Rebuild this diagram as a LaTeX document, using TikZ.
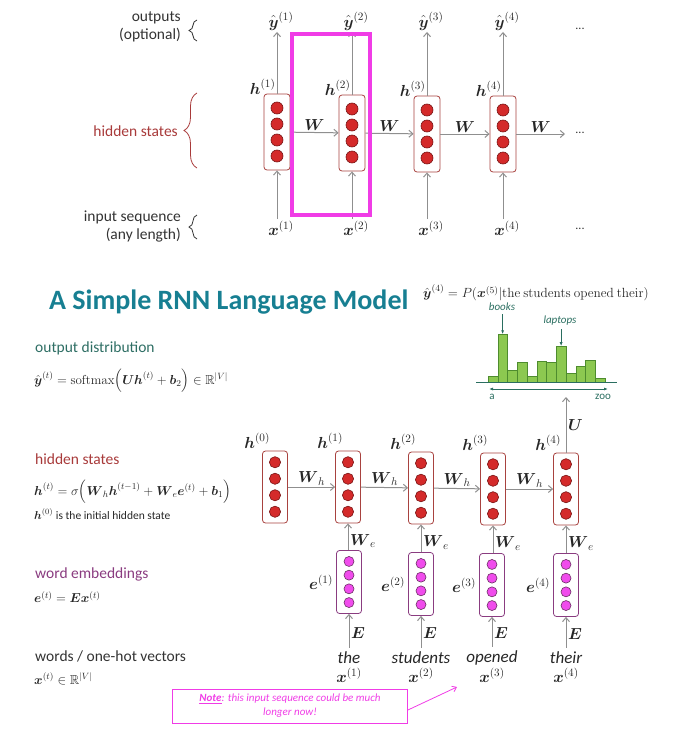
\RequirePackage{fix-cm}
\documentclass[tikz,border=0pt]{standalone}
\usepackage{amsmath,amssymb}
\usepackage[no-math]{fontspec}
\setmainfont{Carlito}
\usetikzlibrary{arrows.meta, positioning, calc, decorations.pathreplacing}
\definecolor{BoxRed}{HTML}{A8423F}
\definecolor{DotRed}{HTML}{D42A2A}
\definecolor{DotEdge}{HTML}{7A1414}
\definecolor{HiddenRed}{HTML}{A83A3A}
\definecolor{EmbPurple}{HTML}{8A3C80}
\definecolor{DotPink}{HTML}{F04CEC}
\definecolor{NotePink}{HTML}{F03CE6}
\definecolor{TitleTeal}{HTML}{177F92}
\definecolor{OutGreen}{HTML}{2E6E64}
\definecolor{ArrowGray}{HTML}{8F8F8F}
\definecolor{BarGreen}{HTML}{8CC850}
\definecolor{BarEdge}{HTML}{4E8C2E}
\definecolor{AxisTeal}{HTML}{2A6E60}
\definecolor{TextGray}{HTML}{333333}
\tikzset{
  cell/.style={rounded corners=3pt, fill=white, inner sep=0pt, thick},
  dotcol/.style n args={4}{path picture={\foreach \k in {-1.5,-0.5,0.5,1.5} \draw[draw=#3, fill=#4, line width=0.6pt] ([yshift=\k*#1]path picture bounding box.center) circle (#2);}},
  rnnbox/.style={cell, draw=BoxRed, minimum width=26pt, minimum height=76pt, dotcol={16pt}{6pt}{DotEdge}{DotRed}},
  hidbox/.style={cell, draw=BoxRed, minimum width=25pt, minimum height=72pt, dotcol={16.5pt}{5.6pt}{DotEdge}{DotRed}},
  embbox/.style={cell, draw=EmbPurple, minimum width=25pt, minimum height=63pt, dotcol={13.7pt}{5pt}{EmbPurple!80!black}{DotPink}},
  histbar/.style={draw=BarEdge, fill=BarGreen, minimum width=9.75pt, inner sep=0pt, outer sep=0pt, anchor=south west},
  garrow/.style={-{Straight Barb[length=4pt, width=7pt]}, draw=ArrowGray, line width=1pt},
  mlabel/.style={font=\fontsize{16}{18}\selectfont, text=black!85, inner sep=1.5pt},
  eqlabel/.style={font=\fontsize{13}{15}\selectfont, text=black!85, inner sep=0pt, anchor=west},
  sidelabel/.style={font=\fontsize{15.5}{18}\selectfont, text=TextGray, align=right, inner sep=0pt},
  headlabel/.style={font=\fontsize{15.5}{18}\selectfont, inner sep=0pt, anchor=west},
  wordlabel/.style={font=\fontsize{17}{19}\selectfont\itshape, text=black!85, inner sep=0pt},
  dotslabel/.style={font=\fontsize{12}{14}\selectfont, text=TextGray},
  curly/.style={decorate, decoration={brace, amplitude=#1}, thick},
  notebox/.style={draw=NotePink, thick, text=NotePink, align=center, minimum width=235pt, minimum height=34pt, inner sep=2pt, font=\fontsize{11}{14}\selectfont\itshape}
}
\begin{document}
\begin{tikzpicture}[x=1pt, y=-1pt]
\useasboundingbox (0,0) rectangle (686,731);

% unrolled RNN
\node[sidelabel, anchor=east] (outtxt) at (181,27) {outputs\\(optional)};
\node[sidelabel, anchor=east, text=HiddenRed] (hidtxt) at (178,131) {hidden states};
\node[sidelabel, anchor=east] (intxt) at (181,226) {input sequence\\(any length)};
\draw[curly=8pt, TextGray] (197,41) -- (197,20);
\draw[curly=13pt, HiddenRed] (197,168) -- (197,93);
\draw[curly=8pt, TextGray] (197,239) -- (197,215);

\node[rnnbox] (t1) at (277,132) {};
\node[rnnbox] (t2) at (352,133) {};
\node[rnnbox] (t3) at (427,134) {};
\node[rnnbox] (t4) at (503,134) {};
\coordinate (tend) at (565,134);
\node[dotslabel] (tdots) at (580,133) {...};
\node[dotslabel] (ydots) at (580,29) {...};
\node[dotslabel] (xdots) at (580,229) {...};

\foreach \i/\x in {1/281,2/356,3/431,4/507} {
  \node[mlabel] (y\i) at (\x,21) {$\hat{\boldsymbol y}^{(\i)}$};
  \node[mlabel] (x\i) at (\x,228) {$\boldsymbol x^{(\i)}$};
  \node[mlabel, anchor=base east, inner sep=0pt] (th\i) at ([xshift=12pt, yshift=-1pt]t\i.north west) {$\boldsymbol h^{(\i)}$};
  \draw[garrow] (t\i.north) -- (t\i.north |- y\i.south);
  \draw[garrow] (x\i.north -| t\i.south) -- (t\i.south);
}
\draw[garrow] (t1) -- node[above, mlabel] {$\boldsymbol W$} (t2);
\draw[garrow] (t2) -- node[above, mlabel] {$\boldsymbol W$} (t3);
\draw[garrow] (t3) -- node[above, mlabel] {$\boldsymbol W$} (t4);
\draw[garrow] (t4) -- node[above, mlabel] {$\boldsymbol W$} (tend);
\draw[NotePink, line width=3.5pt] (292,34) rectangle (370,215);

% language model
\node[font=\fontsize{28}{30}\selectfont\bfseries, text=TitleTeal, anchor=west, inner sep=0pt] (title) at (49,302) {A Simple RNN Language Model};

\node[headlabel, text=OutGreen] (outlbl) at (35,348) {output distribution};
\node[eqlabel] (outeq) at (34,381) {$\hat{\boldsymbol y}^{(t)} = \mathrm{softmax}\Big(\boldsymbol U \boldsymbol h^{(t)} + \boldsymbol b_2\Big) \in \mathbb{R}^{|V|}$};
\node[headlabel, text=HiddenRed] (hidlbl) at (35,459) {hidden states};
\node[eqlabel] (hideq) at (34,492) {$\boldsymbol h^{(t)} = \sigma\Big(\boldsymbol W_h \boldsymbol h^{(t-1)} + \boldsymbol W_e \boldsymbol e^{(t)} + \boldsymbol b_1\Big)$};
\node[eqlabel, font=\fontsize{11.5}{13}\selectfont] (h0note) at (34,514) {$\boldsymbol h^{(0)}$ is the initial hidden state};
\node[headlabel, text=EmbPurple] (emblbl) at (35,574) {word embeddings};
\node[eqlabel] (embeq) at (34,597) {$\boldsymbol e^{(t)} = \boldsymbol E \boldsymbol x^{(t)}$};
\node[headlabel, text=TextGray] (wordlbl) at (35,656) {words / one-hot vectors};
\node[eqlabel] (wordeq) at (34,679) {$\boldsymbol x^{(t)} \in \mathbb{R}^{|V|}$};

\node[hidbox] (h0) at (275,487) {};
\node[hidbox] (h1) at (348,487) {};
\node[hidbox] (h2) at (421,488) {};
\node[hidbox] (h3) at (493,489) {};
\node[hidbox] (h4) at (566,489) {};
\foreach \i in {0,...,4}
  \node[mlabel, anchor=base east, inner sep=0pt] (hl\i) at ([xshift=8pt, yshift=2pt]h\i.north west) {$\boldsymbol h^{(\i)}$};
\draw[garrow] (h0) -- node[above, mlabel] {$\boldsymbol W_h$} (h1);
\draw[garrow] (h1) -- node[above, mlabel] {$\boldsymbol W_h$} (h2);
\draw[garrow] (h2) -- node[above, mlabel] {$\boldsymbol W_h$} (h3);
\draw[garrow] (h3) -- node[above, mlabel] {$\boldsymbol W_h$} (h4);

\node[embbox] (e1) at (349,582) {};
\node[embbox] (e2) at (421,584) {};
\node[embbox] (e3) at (492,585) {};
\node[embbox] (e4) at (566,585) {};
\foreach \i/\w in {1/the,2/students,3/opened,4/their} {
  \node[mlabel, anchor=east, inner sep=0pt] (el\i) at ([xshift=-3pt]e\i.west) {$\boldsymbol e^{(\i)}$};
  \node[wordlabel] (w\i) at (e\i |- 0,658) {\w};
  \node[mlabel, inner sep=0pt] (xw\i) at (e\i |- 0,675) {$\boldsymbol x^{(\i)}$};
  \draw[garrow] (e\i.north -| h\i.south) -- node[right, mlabel, pos=0.35] {$\boldsymbol W_e$} (h\i.south);
  \draw[garrow] ([yshift=4pt]w\i.north) -- node[right, mlabel, pos=0.45] {$\boldsymbol E$} (e\i.south);
}

% output distribution
\node[eqlabel, font=\fontsize{13.3}{15}\selectfont] (peq) at (423,293) {$\hat{\boldsymbol y}^{(4)} = P(\boldsymbol x^{(5)}|\mathrm{the\ students\ opened\ their})$};
\foreach \h [count=\i] in {5.5,47.7,12.3,19.6,6.3,21.3,19.8,35.8,8.7,16.3,22,4}
  \node[histbar, minimum height=\h pt] (bar\i) at (488+9.75*\i-9.75,382) {};
\draw[AxisTeal, thick] (476,382) -- (617,382);
\coordinate (aend) at (489,389);
\coordinate (zend) at (608,389);
\draw[AxisTeal, thick, {Latex[length=4pt]}-{Latex[length=4pt]}] (aend) -- (zend);
\node[font=\fontsize{11}{12}\selectfont, text=AxisTeal] (alab) at (492,397) {a};
\node[font=\fontsize{11}{12}\selectfont, text=AxisTeal] (zlab) at (603,397) {zoo};
\node[font=\fontsize{11}{12}\selectfont\itshape, text=AxisTeal] (books) at (502,307) {books};
\node[font=\fontsize{11}{12}\selectfont\itshape, text=AxisTeal] (laptops) at (560,321) {laptops};
\draw[AxisTeal, thick, -{Latex[length=4pt]}] (books.south -| bar2.north) -- (bar2.north);
\draw[AxisTeal, thick, -{Latex[length=4pt]}] (laptops.south -| bar8.north) -- (bar8.north);
\coordinate (utip) at (566,397);
\draw[garrow] (h4.north) -- node[right, mlabel] {$\boldsymbol U$} (utip);

% note
\node[notebox] (note) at (290,706) {\underline{\textbf{Note}}: this input sequence could be much\\longer now!};
\coordinate (notetip) at (457,687);
\draw[NotePink, thick, -{Straight Barb[length=4pt, width=6pt]}] ([yshift=-4pt]note.east) -- (notetip);
\end{tikzpicture}
\end{document}
